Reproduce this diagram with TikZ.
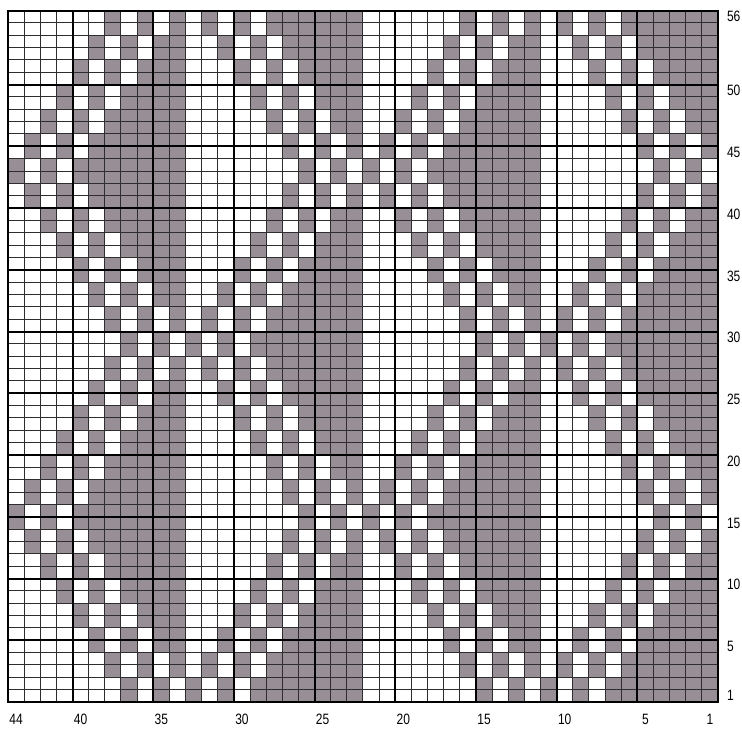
\documentclass[tikz,border=0pt]{standalone}
\usepackage{fontspec}
\newfontfamily\chartfont{Liberation Sans}[FakeStretch=0.8]
\usepackage{tikz}
\definecolor{stitch}{HTML}{988F96}
\definecolor{rule}{HTML}{2E2E2E}

\begin{document}
\begin{tikzpicture}[x=1pt,y=1pt,
    thinrule/.style={rule,line width=1pt},
    thickrule/.style={black,line width=2pt},
    numlabel/.style={font=\chartfont\fontsize{15}{15}\selectfont,inner sep=0pt}]
  \useasboundingbox (0,0) rectangle (742,729);
  \begin{scope}[shift={(8,27)},x=16.136pt,y=12.348pt]
    \foreach \col in {0,...,43}{
      \foreach \pr in {1,...,28}{
        \pgfmathtruncatemacro{\jj}{mod(\col,22)}
        \pgfmathtruncatemacro{\dist}{min(abs(\pr-1),abs(\pr-15),abs(\pr-29))}
        \pgfmathtruncatemacro{\pos}{\jj<11 ? \jj-7+\dist : \jj-11-\dist}
        \pgfmathtruncatemacro{\isgray}{(\pos>=4) || (\pos==0) || (\pos==2)}
        \ifnum\isgray=1 \fill[stitch] (\col,2*\pr-2) rectangle ++(1,2); \fi
      }
    }
    \foreach \i in {0,...,44} \draw[thinrule] (\i,0) -- (\i,56);
    \foreach \r in {0,...,56} \draw[thinrule] (0,\r) -- (44,\r);
    \foreach \i in {4,9,...,39} \draw[thickrule] (\i,0) -- (\i,56);
    \foreach \r in {5,10,...,50} \draw[thickrule] (0,\r) -- (44,\r);
    \draw[thickrule] (0,0) rectangle (44,56);
    \foreach \r in {56,50,45,...,5,1}
      \node[numlabel,anchor=west] (row\r) at (44.55,\r-0.5) {\r};
    \foreach \s in {44,40,35,...,5,1}
      \node[numlabel] (st\s) at (44-\s+0.5,-1.4) {\s};
  \end{scope}
\end{tikzpicture}
\end{document}
